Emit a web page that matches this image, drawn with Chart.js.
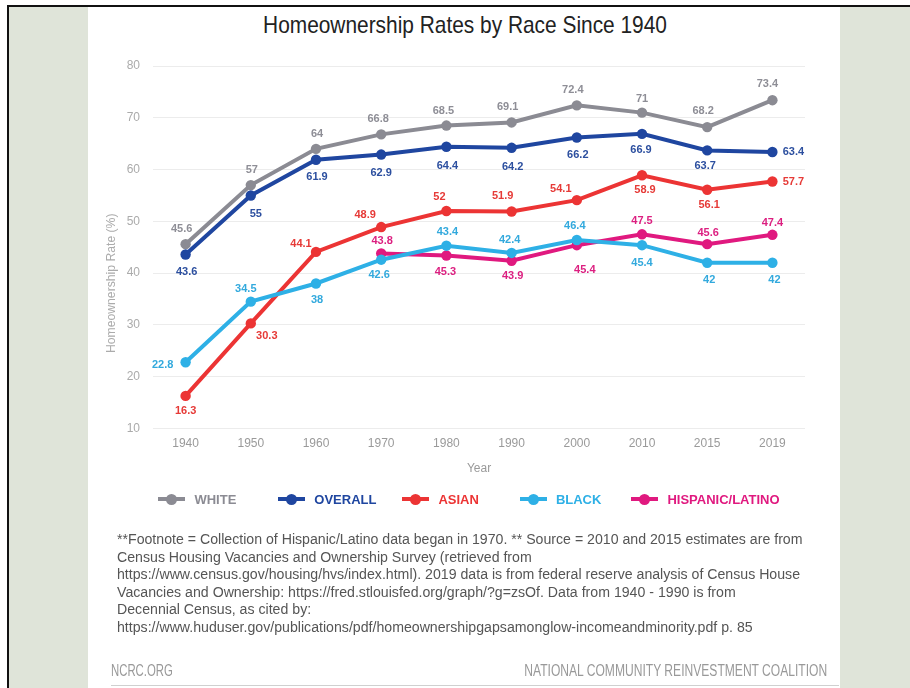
<!DOCTYPE html>
<html>
<head>
<meta charset="utf-8">
<script src="https://cdn.jsdelivr.net/npm/chart.js@4.4.1/dist/chart.umd.min.js"></script>
<style>
  html, body { margin:0; padding:0; }
  body { width:910px; height:688px; position:relative; overflow:hidden; background:#fff; font-family:"Liberation Sans", Arial, sans-serif; }
  #frame { position:absolute; left:7px; top:5px; right:0; bottom:0; border-left:2px solid #111; border-top:2px solid #111; background:#dfe4d9; }
  #panel { position:absolute; left:88px; top:7px; width:752px; bottom:0; background:#fff; }
  #title { position:absolute; left:465px; top:11px; white-space:nowrap; font-size:24px; color:#222; transform:translateX(-50%) scaleX(0.87); transform-origin:center; }
  #chart { position:absolute; left:0; top:0; }
  #legend { position:absolute; left:0; width:910px; top:490px; display:flex; justify-content:center; padding-left:28px; box-sizing:border-box; }
  .li { display:flex; align-items:center; font-weight:bold; font-size:13px; }
  .mk { position:relative; width:27px; height:18px; margin-right:9px; }
  .mk .ln { position:absolute; left:0; top:7px; width:27px; height:4px; }
  .mk .dt { position:absolute; left:8px; top:4px; width:11px; height:11px; border-radius:50%; }
  #foot { position:absolute; left:117px; top:531px; white-space:nowrap; font-size:14.15px; line-height:17.6px; color:#555; }
  #ftl { position:absolute; left:111px; top:662px; font-size:16px; color:#999; transform:scaleX(0.71); transform-origin:left center; white-space:nowrap; }
  #ftr { position:absolute; right:83px; top:662px; font-size:16px; color:#999; transform:scaleX(0.755); transform-origin:right center; white-space:nowrap; }
  #fline { position:absolute; left:111px; width:728px; top:685px; height:1px; background:#d0d0d0; }
</style>
</head>
<body>
<div id="frame"></div>
<div id="panel"></div>
<div id="title">Homeownership Rates by Race Since 1940</div>
<canvas id="chart" width="910" height="688"></canvas>
<div id="legend"></div>
<div id="foot">**Footnote = Collection of Hispanic/Latino data began in 1970. ** Source = 2010 and 2015 estimates are from<br>Census Housing Vacancies and Ownership Survey (retrieved from<br>https://www.census.gov/housing/hvs/index.html). 2019 data is from federal reserve analysis of Census House<br>Vacancies and Ownership: https://fred.stlouisfed.org/graph/?g=zsOf. Data from 1940 - 1990 is from<br>Decennial Census, as cited by:<br>https://www.huduser.gov/publications/pdf/homeownershipgapsamonglow-incomeandminority.pdf p. 85</div>
<div id="ftl">NCRC.ORG</div>
<div id="ftr">NATIONAL COMMUNITY REINVESTMENT COALITION</div>
<div id="fline"></div>
<script>
// ---- data ----
const years = ['1940','1950','1960','1970','1980','1990','2000','2010','2015','2019'];
const seriesNames = ['WHITE','OVERALL','ASIAN','BLACK','HISPANIC/LATINO'];
const white    = [45.6, 57, 64, 66.8, 68.5, 69.1, 72.4, 71, 68.2, 73.4];
const overall  = [43.6, 55, 61.9, 62.9, 64.4, 64.2, 66.2, 66.9, 63.7, 63.4];
const asian    = [16.3, 30.3, 44.1, 48.9, 52, 51.9, 54.1, 58.9, 56.1, 57.7];
const black    = [22.8, 34.5, 38, 42.6, 45.3, 43.9, 46.4, 45.4, 42, 42];
const hispanic = [null, null, null, 43.8, 43.4, 42.4, 45.4, 47.5, 45.6, 47.4];
// label texts as printed in the chart
const whiteLabels    = ['45.6','57','64','66.8','68.5','69.1','72.4','71','68.2','73.4'];
const overallLabels  = ['43.6','55','61.9','62.9','64.4','64.2','66.2','66.9','63.7','63.4'];
const asianLabels    = ['16.3','30.3','44.1','48.9','52','51.9','54.1','58.9','56.1','57.7'];
const blackLabels    = ['22.8','34.5','38','42.6','43.4','42.4','46.4','45.4','42','42'];
const hispanicLabels = [null,null,null,'43.8','45.3','43.9','45.4','47.5','45.6','47.4'];
const yTicks = [10, 20, 30, 40, 50, 60, 70, 80];
const xTitle = 'Year';
const yTitle = 'Homeownership Rate (%)';

// ---- styles ----
const lineColors  = ['#8b8b93', '#1f46a0', '#ec3434', '#2eb0e6', '#e0197f'];
const labelColors = ['#8e8e96', '#2c4f9f', '#e63a37', '#32a9dd', '#dc1f80'];
const drawOrder   = [5, 2, 3, 1, 4];
const legendGaps  = [42, 26, 41, 30, 0];
const labelOffsets = [
  [[-4,-15],[1,-15],[1,-15],[-3,-15],[-3,-15],[-4,-15],[-4,-15],[0,-14],[-4,-16],[-5,-16]],
  [[1,17],[5,19],[1,17],[0,18],[1,19],[1,19],[1,18],[-1,16],[-2,16],[21,0]],
  [[0,15],[16,13],[-15,-8],[-16,-12],[-7,-14],[-9,-16],[-16,-11],[3,15],[2,15],[21,0]],
  [[-23,3],[-5,-13],[1,16],[-2,15],[1,-14],[-2,-13],[-2,-14],[0,18],[2,17],[2,17]],
  [null,null,null,[1,-12],[-1,16],[1,15],[8,25],[0,-13],[1,-11],[0,-12]]
];
const allValues = [white, overall, asian, black, hispanic];
const allLabels = [whiteLabels, overallLabels, asianLabels, blackLabels, hispanicLabels];
const FONT = '"Liberation Sans", Arial, sans-serif';

const datasets = allValues.map((vals, i) => ({
  label: seriesNames[i],
  data: vals,
  borderColor: lineColors[i],
  backgroundColor: lineColors[i],
  pointBackgroundColor: lineColors[i],
  pointBorderWidth: 0,
  pointRadius: 5.2,
  borderWidth: 4,
  tension: 0,
  order: drawOrder[i],
  spanGaps: false
}));

const labelPlugin = {
  id: 'pointLabels',
  afterDatasetsDraw(chart) {
    const ctx = chart.ctx;
    ctx.save();
    ctx.font = 'bold 11px ' + FONT;
    ctx.textAlign = 'center';
    ctx.textBaseline = 'middle';
    chart.data.datasets.forEach((ds, i) => {
      const meta = chart.getDatasetMeta(i);
      meta.data.forEach((pt, j) => {
        const txt = allLabels[i][j];
        const off = labelOffsets[i][j];
        if (txt == null || ds.data[j] == null || !off) return;
        ctx.fillStyle = labelColors[i];
        ctx.fillText(txt, pt.x + off[0], pt.y + off[1]);
      });
    });
    // y-axis title (sits a little below the plot centre in the original)
    const a = chart.chartArea;
    ctx.translate(112, (a.top + a.bottom) / 2 + 36);
    ctx.rotate(-Math.PI / 2);
    ctx.font = '12.2px ' + FONT;
    ctx.fillStyle = '#ababab';
    ctx.fillText(yTitle, 0, 0);
    ctx.restore();
  }
};

new Chart(document.getElementById('chart'), {
  type: 'line',
  data: { labels: years, datasets },
  options: {
    responsive: false,
    animation: false,
    devicePixelRatio: 1,
    layout: { padding: { left: 93, top: 66, right: 105, bottom: 209.5 } },
    plugins: { legend: { display: false }, tooltip: { enabled: false }, title: { display: false } },
    scales: {
      x: {
        offset: true,
        grid: { display: false, drawTicks: false },
        border: { display: false },
        ticks: { color: '#9a9a9a', font: { size: 12, family: FONT }, padding: 8 },
        title: { display: true, text: xTitle, color: '#9a9a9a', font: { size: 12, family: FONT }, padding: { top: 0, bottom: 3 } },
        afterFit(s) { s.height = 50; }
      },
      y: {
        min: yTicks[0],
        max: yTicks[yTicks.length - 1],
        afterBuildTicks(s) { s.ticks = yTicks.map(v => ({ value: v })); },
        grid: { color: '#ececec', lineWidth: 1, drawTicks: false },
        border: { display: false },
        ticks: { color: '#ababab', font: { size: 12, family: FONT }, padding: 13 },
        title: { display: false },
        afterFit(s) { s.width = 60; }
      }
    }
  },
  plugins: [labelPlugin]
});

// HTML legend built from the series definitions
const legend = document.getElementById('legend');
seriesNames.forEach((name, i) => {
  const item = document.createElement('div');
  item.className = 'li';
  item.style.color = lineColors[i];
  item.style.marginRight = legendGaps[i] + 'px';
  item.innerHTML = '<div class="mk"><div class="ln" style="background:' + lineColors[i] + '"></div><div class="dt" style="background:' + lineColors[i] + '"></div></div><span>' + name + '</span>';
  legend.appendChild(item);
});
</script>
</body>
</html>
